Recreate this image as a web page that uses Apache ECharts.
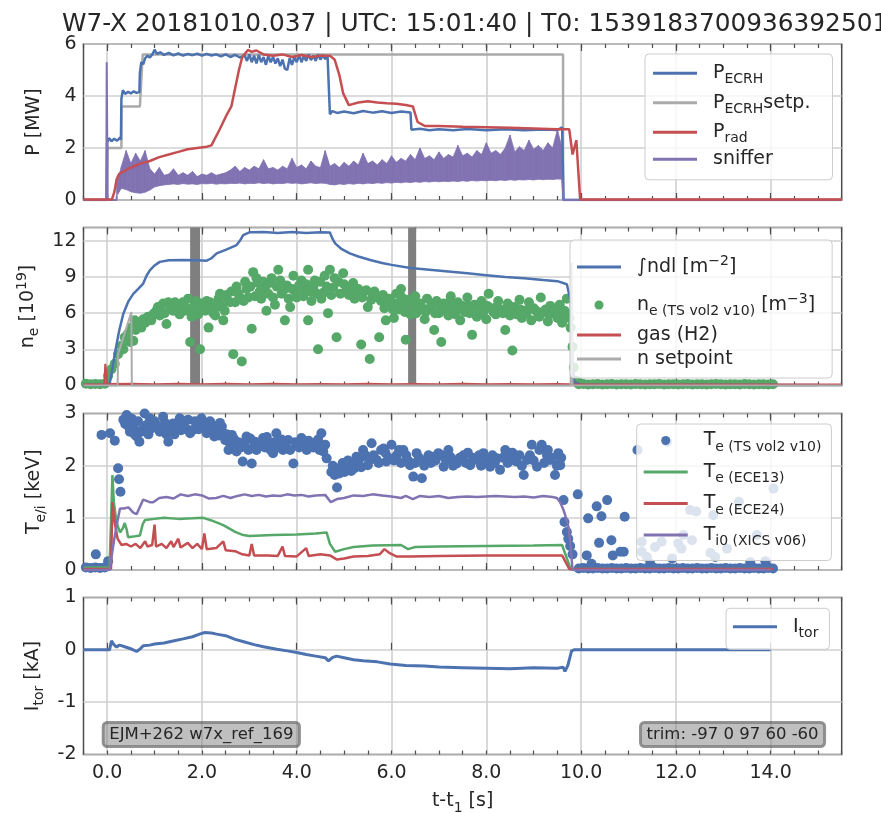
<!DOCTYPE html>
<html>
<head>
<meta charset="utf-8">
<script src="https://cdn.jsdelivr.net/npm/echarts@6/dist/echarts.min.js"></script>
<style>
  html, body { margin: 0; padding: 0; background: #fff; }
  #chart { width: 881px; height: 813px; }
</style>
</head>
<body>
<div id="chart"></div>
<script>
// W7-X 20181010.037 overview: 4 stacked panels sharing t-t1.
const FONT = 'DejaVu Sans';
const INK = '#262626';
const FRAME = '#4d4d4d';
const GRIDC = '#d0d0d0';
const BLUE = '#4C72B0', GREEN = '#55A868', RED = '#C44E52', PURPLE = '#8172B2', GRAY = '#ababab';

const titleText = 'W7-X 20181010.037 | UTC: 15:01:40 | T0: 1539183700936392501';
const X_MIN = -0.5, X_MAX = 15.5;
const xTicks = [0, 2, 4, 6, 8, 10, 12, 14];

// ---- panel 1: P [MW]
const pEcrh = [[-0.5,0],[-0.01,0],[0.0,2.2],[0.04,2.38],[0.09,2.26],[0.15,2.36],[0.21,2.28],[0.27,2.4],[0.29,2.32],[0.30,3.9],[0.33,4.22],[0.38,4.08],[0.44,4.16],[0.5,4.1],[0.56,4.18],[0.62,4.12],[0.68,4.15],[0.69,4.9],[0.72,5.3],[0.76,5.22],[0.8,5.45],[0.85,5.55],[0.9,5.48],[0.96,5.62],[1.0,5.78],[1.05,5.62],[1.12,5.68],[1.2,5.58],[1.3,5.66],[1.4,5.56],[1.5,5.64],[1.6,5.55],[1.7,5.62],[1.8,5.57],[1.9,5.63],[2.0,5.55],[2.1,5.62],[2.2,5.56],[2.3,5.6],[2.4,5.52],[2.5,5.6],[2.6,5.5],[2.7,5.58],[2.8,5.48],[2.9,5.56],[2.95,5.35],[3.0,5.6],[3.05,5.3],[3.1,5.55],[3.15,5.25],[3.2,5.58],[3.25,5.3],[3.3,5.5],[3.35,5.2],[3.4,5.55],[3.45,5.3],[3.5,5.5],[3.55,5.25],[3.6,5.45],[3.65,5.15],[3.7,5.4],[3.75,5.05],[3.8,5.0],[3.85,5.45],[3.9,5.2],[3.95,5.5],[4.0,5.3],[4.05,5.58],[4.1,5.3],[4.15,5.55],[4.2,5.35],[4.25,5.6],[4.3,5.38],[4.35,5.55],[4.4,5.35],[4.45,5.6],[4.5,5.4],[4.55,5.58],[4.6,5.42],[4.65,5.55],[4.69,5.5],[4.7,3.3],[4.75,3.42],[4.85,3.35],[5.0,3.4],[5.2,3.34],[5.4,3.42],[5.6,3.36],[5.8,3.41],[6.0,3.35],[6.2,3.4],[6.4,3.37],[6.42,2.7],[6.6,2.74],[6.8,2.68],[7.0,2.72],[7.3,2.68],[7.6,2.73],[8.0,2.68],[8.4,2.72],[8.8,2.68],[9.2,2.71],[9.5,2.69],[9.6,2.8],[9.63,0],[15.5,0]];
const pEcrhSet = [[-0.5,0],[-0.01,0],[0.0,2.0],[0.3,2.0],[0.3,3.6],[0.69,3.6],[0.75,5.6],[9.62,5.6],[9.62,0],[15.5,0]];
const pRad = [[-0.5,0.02],[0.1,0.02],[0.15,0.3],[0.2,0.8],[0.25,1.0],[0.35,1.1],[0.5,1.25],[0.7,1.4],[0.9,1.5],[1.1,1.65],[1.3,1.75],[1.5,1.85],[1.7,1.95],[1.9,2.0],[2.1,2.05],[2.2,2.1],[2.37,2.7],[2.52,3.27],[2.62,3.6],[2.7,4.3],[2.78,5.0],[2.85,5.5],[2.97,5.77],[3.05,5.7],[3.15,5.75],[3.3,5.6],[3.5,5.55],[3.7,5.6],[3.9,5.5],[4.1,5.58],[4.3,5.5],[4.5,5.55],[4.7,5.55],[4.8,5.4],[4.9,4.8],[4.98,4.1],[5.1,3.65],[5.3,3.75],[5.5,3.8],[5.7,3.75],[5.9,3.72],[6.1,3.7],[6.3,3.65],[6.45,3.6],[6.55,3.0],[6.7,2.85],[7.0,2.85],[7.5,2.82],[8.0,2.8],[8.5,2.78],[9.0,2.75],[9.5,2.72],[9.75,2.72],[9.82,1.75],[9.9,2.3],[9.98,0.02],[15.5,0.02]];
const snifSpike = [[-0.5,0],[-0.02,0],[-0.01,5.3],[0.0,5.3],[0.01,0],[0.2,0],[0.2,0.15]];
const snifT0 = 0.2, snifDt = 0.1;   // sampling of the sniffer envelopes
const snifLo = [0.15,0.45,0.40,0.32,0.28,0.26,0.30,0.38,0.50,0.55,
  0.58,0.60,0.62,0.60,0.63,0.61,0.62,0.60,0.63,0.62,
  0.64,0.61,0.63,0.62,0.64,0.63,0.65,0.62,0.64,0.63,
  0.66,0.63,0.65,0.62,0.64,0.63,0.66,0.64,0.65,0.62,
  0.64,0.66,0.63,0.65,0.64,0.60,0.58,0.62,0.60,0.63,
  0.61,0.64,0.62,0.65,0.63,0.66,0.64,0.67,0.65,0.68,
  0.66,0.69,0.67,0.70,0.68,0.71,0.69,0.72,0.70,0.72,
  0.71,0.73,0.71,0.74,0.72,0.75,0.73,0.75,0.74,0.76,
  0.74,0.77,0.75,0.78,0.76,0.78,0.77,0.79,0.77,0.80,
  0.78,0.80,0.79,0.81,0.80];
const snifHi = [0.6,1.3,1.9,1.4,1.8,1.5,1.9,1.2,1.0,1.25,
  0.95,1.0,1.2,0.95,1.05,0.95,1.1,0.9,1.0,0.95,
  1.05,0.95,1.0,1.05,1.15,1.3,1.1,1.25,1.15,1.3,
  1.2,1.55,1.2,1.25,1.15,1.3,1.2,1.6,1.25,1.35,
  1.2,1.5,1.3,1.25,1.9,1.3,1.4,1.25,1.45,1.3,
  1.5,1.35,1.8,1.4,1.5,1.35,1.55,1.4,1.7,1.45,
  1.6,1.5,1.75,1.55,2.0,1.6,1.7,1.55,1.85,1.6,
  1.75,1.65,2.1,1.7,1.8,1.65,1.9,1.75,2.2,1.8,
  1.9,1.75,2.0,2.5,1.85,2.05,1.9,2.3,1.95,2.1,
  1.9,2.2,2.0,2.7,2.0];
const snifTail = [[9.6,0.8],[9.63,0],[15.5,0]];

// ---- panel 2: n_e [1e19]
const ndl = [[-0.5,0.05],[0.0,0.05],[0.05,0.1],[0.1,1.2],[0.16,2.6],[0.25,4.5],[0.34,5.95],[0.45,7.0],[0.55,7.6],[0.65,8.0],[0.76,8.45],[0.83,9.1],[0.9,9.55],[1.0,9.95],[1.11,10.25],[1.3,10.38],[1.6,10.4],[1.9,10.38],[2.1,10.35],[2.2,10.55],[2.31,10.95],[2.5,11.25],[2.73,11.64],[2.8,12.0],[2.87,12.47],[3.0,12.7],[3.3,12.72],[3.6,12.65],[3.9,12.72],[4.2,12.65],[4.5,12.7],[4.7,12.68],[4.75,12.2],[4.81,11.78],[4.95,11.3],[5.12,10.95],[5.3,10.7],[5.55,10.4],[5.8,10.15],[6.0,10.0],[6.4,9.75],[6.8,9.6],[7.2,9.45],[7.6,9.3],[8.0,9.15],[8.4,9.0],[8.8,8.9],[9.2,8.75],[9.5,8.65],[9.7,8.4],[9.78,7.0],[9.82,2.0],[9.86,0.3],[10.0,0.05],[15.0,0.05]];
const neTs = [[-0.45,0.15],[-0.35,0.1],[-0.25,0.12],[-0.15,0.1],[-0.05,0.15],
  [0.02,0.8],[0.09,1.35],[0.16,1.8],[0.23,2.6],[0.3,3.3],[0.34,3.0],[0.37,4.0],[0.44,4.3],[0.48,3.6],[0.51,4.8],[0.55,3.7],[0.58,5.4],[0.65,5.1],[0.72,4.8],[0.76,5.5],[0.86,5.7],[0.93,5.4],[1.0,6.0],[1.04,6.2],[1.11,5.8],[1.18,6.8],[1.25,5.1],[1.29,6.9],[1.36,6.4],[1.43,6.9],[1.5,6.1],[1.57,6.7],[1.64,6.2],[1.71,7.2],[1.75,3.6],[1.78,5.7],[1.85,6.7],[1.96,3.0],[2.0,6.8],[2.07,6.2],[2.14,4.8],[2.17,6.9],[2.28,5.8],[2.35,7.2],[2.42,6.7],[2.45,5.4],[2.52,7.5],[2.59,6.9],[2.66,2.6],[2.73,8.2],[2.8,7.3],[2.84,2.0],[2.91,8.6],[2.98,7.3],[3.05,4.7],[3.08,9.4],[3.15,8.9],[3.22,7.8],[3.29,8.6],[3.36,6.2],[3.43,8.5],[3.54,6.7],[3.61,9.6],[3.68,7.6],[3.75,5.4],[3.79,8.3],[3.86,6.5],[3.93,9.1],[4.0,7.3],[4.1,8.7],[4.17,7.9],[4.24,9.6],[4.24,5.4],[4.31,7.0],[4.38,8.7],[4.45,3.0],[4.52,7.2],[4.59,9.1],[4.66,6.0],[4.7,9.6],[4.77,8.1],[4.84,4.0],[4.88,8.6],[4.98,9.3],[5.05,7.9],[5.19,8.5],[5.26,7.8],[5.36,3.4],[5.43,7.8],[5.5,6.5],[5.54,2.2],[5.64,7.8],[5.74,4.0],[5.78,7.0],[5.88,5.4],[5.92,6.7],
  [0.6,4.6],[0.68,5.0],[0.8,5.2],[0.9,5.6],[0.97,5.9],[1.07,6.5],[1.14,6.1],[1.21,6.0],[1.32,6.6],[1.39,6.2],[1.46,6.6],[1.53,5.9],[1.6,6.9],[1.68,6.4],[1.8,6.3],[1.88,7.0],[1.92,5.9],
  [2.03,6.4],[2.1,7.0],[2.2,6.6],[2.24,6.0],[2.32,6.5],[2.38,7.6],[2.48,6.2],[2.55,7.0],[2.62,7.8],[2.7,6.9],[2.77,7.6],[2.88,7.0],[2.94,8.0],
  [3.02,8.2],[3.12,7.4],[3.18,8.5],[3.25,7.2],[3.33,8.0],[3.4,7.6],[3.47,8.9],[3.5,7.3],[3.58,8.2],[3.65,8.7],[3.72,7.9],[3.83,7.2],[3.9,8.0],[3.97,7.8],[4.05,8.3],[4.14,7.4],[4.2,8.4],[4.28,7.8],[4.35,8.1],[4.42,7.6],[4.49,8.6],[4.56,7.7],[4.63,8.2],[4.73,7.5],[4.8,8.9],[4.92,7.6],[5.0,8.4],
  [5.1,7.5],[5.15,8.2],[5.22,7.2],[5.3,8.0],[5.38,7.3],[5.47,7.9],[5.57,7.1],[5.6,7.6],[5.7,7.3],[5.82,7.5],[5.85,6.4],[5.95,7.2],
  [6.0,6.9],[6.05,5.6],[6.1,7.6],[6.15,6.3],[6.2,8.0],[6.25,6.6],[6.3,3.8],[6.35,7.1],[6.4,5.9],[6.5,7.4],[6.55,6.2],[6.6,6.8],[6.7,5.5],[6.75,7.2],[6.8,6.4],[6.9,4.6],[6.95,7.0],[7.0,6.0],[7.05,3.6],[7.1,6.8],[7.2,5.8],[7.25,7.4],[7.3,6.3],[7.4,6.9],[7.45,5.4],[7.5,6.6],[7.6,7.3],[7.65,6.0],[7.7,4.2],[7.75,6.7],[7.8,5.7],[7.9,7.0],[7.95,6.2],[8.0,5.5],[8.05,7.6],[8.1,6.4],[8.2,5.9],[8.25,7.0],[8.3,6.3],[8.4,4.6],[8.45,6.8],[8.5,5.8],[8.55,2.9],[8.6,6.5],[8.7,7.1],[8.75,5.6],[8.8,6.2],[8.9,6.9],[8.95,5.4],[9.0,6.4],[9.1,5.9],[9.15,7.3],[9.2,6.1],[9.3,5.3],[9.35,6.6],[9.4,6.0],[9.5,5.6],[9.55,6.7],[9.6,5.2],[9.65,6.2],[9.7,7.2],[9.75,5.6],[9.78,4.8],[9.82,3.2],[9.85,1.5],[9.9,0.4],
  [6.03,6.3],[6.13,6.8],[6.22,7.3],[6.28,6.1],[6.45,6.7],[6.52,6.0],[6.63,6.5],[6.72,6.1],[6.85,6.7],[6.92,6.0],[7.02,6.6],[7.15,6.2],[7.22,6.9],[7.35,5.9],[7.42,6.4],[7.55,6.1],[7.62,6.6],[7.72,6.3],[7.85,6.5],[7.92,5.9],[8.02,6.6],[8.15,6.1],[8.22,6.5],[8.35,6.0],[8.42,6.3],[8.52,6.5],[8.65,5.9],[8.72,6.3],[8.85,6.0],[8.92,6.4],[9.05,6.2],[9.12,5.7],[9.25,6.3],[9.32,5.9],[9.45,6.3],[9.52,5.8],[9.62,6.0],[9.72,5.9],
  [9.95,0.1],[10.05,0.12],[10.15,0.08],[10.25,0.1],[10.35,0.13],[10.45,0.09],[10.55,0.1],[10.65,0.12],[10.75,0.08],[10.85,0.1],[10.95,0.11],[11.05,0.09],[11.15,0.12],[11.25,0.1],[11.35,0.08],[11.45,0.11],[11.55,0.1],[11.65,0.12],[11.75,0.09],[11.85,0.1],[11.95,0.11],[12.05,0.08],[12.15,0.1],[12.25,0.12],[12.35,0.09],[12.45,0.1],[12.55,0.11],[12.65,0.08],[12.75,0.1],[12.85,0.12],[12.95,0.1],[13.05,0.09],[13.15,0.11],[13.25,0.1],[13.35,0.08],[13.45,0.12],[13.55,0.1],[13.65,0.09],[13.75,0.11],[13.85,0.1],[13.95,0.08],[14.05,0.1]];
const gasH2 = [[-0.5,0.08],[-0.06,0.1],[-0.04,1.8],[-0.02,1.2],[0.0,0.12],[0.5,0.15],[1.0,0.1],[1.5,0.14],[2.0,0.1],[2.5,0.15],[3.0,0.11],[3.5,0.14],[4.0,0.1],[4.5,0.13],[5.0,0.1],[5.5,0.14],[6.0,0.1],[6.5,0.13],[7.0,0.11],[7.5,0.14],[8.0,0.1],[8.5,0.13],[9.0,0.1],[9.5,0.12],[10.0,0.08],[15.5,0.08]];
const nSet = [[-0.5,0],[0.22,0],[0.23,2.6],[0.51,6.1],[0.52,0],[9.78,0],[9.8,10.2],[9.82,0],[15.5,0]];
const nBands = [[1.75, 1.96], [6.35, 6.52]];

// ---- panel 3: T [keV]
const teTs = [[-0.45,0.05],[-0.35,0.04],[-0.24,0.3],[-0.25,0.05],[-0.15,0.04],[-0.12,2.59],[-0.05,0.05],[0.02,0.17],[0.06,2.62],[0.16,2.48],[0.23,1.95],[0.25,1.74],[0.28,1.5],[0.34,2.88],[0.41,2.97],[0.48,2.65],[0.55,2.72],[0.62,2.56],[0.68,2.46],[0.72,2.65],[0.79,3.0],[0.9,2.91],[1.0,2.85],[1.11,2.65],[1.18,2.94],[1.29,2.46],[1.39,2.81],[1.46,2.72],[1.53,2.91],[1.6,2.78],[1.71,2.88],[1.82,2.69],[1.89,2.81],[1.99,2.91],[2.07,2.72],[2.17,2.85],[2.26,2.56],[2.31,2.69],[2.42,2.75],[2.49,2.49],[2.56,2.3],[2.63,2.59],[2.7,2.43],[2.73,2.27],[2.86,2.08],[2.94,2.56],[3.05,2.04],[3.12,2.46],[3.19,2.37],[3.29,2.53],[3.4,2.4],[3.5,2.24],[3.57,2.62],[3.64,2.43],[3.71,2.3],[3.82,2.49],[3.93,2.04],[4.0,2.4],[4.1,2.53],[4.21,2.3],[4.31,2.43],[4.42,2.37],[4.52,2.62],[4.56,2.27],[4.63,2.14],[4.73,1.88],[4.8,1.82],[4.85,1.58],[4.94,1.98],[5.01,1.88],[5.12,2.04],[5.19,2.04],[5.22,1.95],[5.26,2.17],[5.33,2.14],[5.4,2.3],[5.5,2.01],[5.58,2.43],[5.69,2.11],[5.78,2.3],[5.83,2.33],[5.89,2.08],[6.0,2.4],[6.11,2.2],[6.25,2.3],[6.39,2.01],[6.46,1.79],[6.53,2.24],[6.64,1.76],[6.74,2.11],[6.88,2.17],[6.99,2.24],[7.1,1.98],[7.24,2.17],[7.38,2.04],[7.52,2.2],[7.66,2.01],[7.8,2.11],[7.94,2.24],[8.08,1.98],[8.22,2.14],[8.29,1.92],[8.4,2.3],[8.5,2.2],[8.64,2.08],[8.79,1.82],[8.86,2.11],[8.96,2.4],[9.07,1.98],[9.17,2.4],[9.28,2.2],[9.35,2.11],[9.45,1.82],[9.52,2.24],[9.56,2.01],[9.63,1.34],[9.65,0.92],[9.7,0.73],[9.73,0.6],[9.77,0.46],[9.82,0.3],[9.93,1.45],[10.12,0.28],[10.15,0.99],[10.22,0.12],[10.33,1.22],[10.38,0.52],[10.43,1.03],[10.55,1.34],[10.64,0.57],[10.67,0.28],[10.83,0.35],[10.92,1.02],[10.9,0.35],[11.19,2.3],[11.28,0.54],[11.28,0.35],[11.39,0.25],[11.46,0.12],[11.56,0.44],[11.7,0.54],[11.81,2.46],[11.92,0.22],[12.05,0.51],[12.12,0.41],[12.16,0.67],[12.3,1.15],[12.34,0.57],[12.43,1.12],[12.73,0.33],[12.79,1.05],[12.83,0.25],[13.08,0.41],[13.33,1.31],[13.57,0.15],[13.71,0.67],[13.89,0.17],[14.06,1.56],
  [0.38,2.8],[0.45,2.75],[0.52,2.9],[0.58,2.6],[0.65,2.85],[0.75,2.7],[0.83,2.78],[0.87,2.6],[0.95,2.72],[1.05,2.78],[1.15,2.7],[1.22,2.82],[1.25,2.6],[1.33,2.75],[1.42,2.6],[1.5,2.8],[1.56,2.68],[1.64,2.86],[1.68,2.7],[1.75,2.62],[1.85,2.85],[1.93,2.7],[2.02,2.8],[2.1,2.62],[2.13,2.78],[2.21,2.7],[2.28,2.75],[2.35,2.58],[2.38,2.82],[2.45,2.62],
  [2.52,2.6],[2.6,2.4],[2.67,2.52],[2.77,2.45],[2.82,2.35],[2.9,2.45],[2.98,2.3],[3.02,2.52],[3.08,2.35],[3.15,2.3],[3.24,2.45],[3.33,2.35],[3.37,2.55],[3.45,2.3],[3.53,2.45],[3.6,2.35],[3.68,2.5],[3.76,2.38],[3.86,2.3],[3.97,2.45],[4.05,2.35],[4.14,2.42],[4.25,2.48],[4.35,2.35],[4.45,2.5],[4.48,2.3],[4.6,2.4],
  [4.76,2.0],[4.83,1.9],[4.9,1.85],[4.97,2.05],[5.05,1.95],[5.08,2.1],[5.15,1.9],[5.29,2.05],[5.36,1.97],[5.45,2.2],[5.53,2.1],
  [5.62,2.2],[5.73,2.05],[5.87,2.25],[5.94,2.15],[6.05,2.1],[6.16,2.3],[6.2,2.05],[6.31,2.2],[6.35,2.1],[6.5,2.05],[6.58,2.15],[6.69,2.0],[6.78,2.2],[6.83,2.05],[6.93,2.1],[7.05,2.2],[7.15,2.1],[7.2,2.3],[7.3,2.0],[7.34,2.1],[7.44,2.15],[7.57,2.05],[7.61,2.25],[7.72,2.15],[7.85,2.2],[7.89,2.0],[8.0,2.1],[8.13,2.2],[8.18,2.05],[8.35,2.15],[8.45,2.05],[8.55,2.25],[8.6,2.1],[8.7,2.2],[8.75,2.0],[8.92,2.2],[9.0,2.1],[9.12,2.3],[9.22,2.05],[9.3,2.3],[9.4,2.15],[9.49,2.0],[9.58,2.15],
  [9.95,0.03],[10.05,0.04],[10.15,0.03],[10.25,0.03],[10.35,0.04],[10.45,0.03],[10.55,0.03],[10.65,0.04],[10.75,0.03],[10.85,0.03],[10.95,0.04],[11.05,0.03],[11.15,0.03],[11.25,0.04],[11.35,0.03],[11.45,0.03],[11.55,0.04],[11.65,0.03],[11.75,0.03],[11.85,0.04],[11.95,0.03],[12.05,0.03],[12.15,0.04],[12.25,0.03],[12.35,0.03],[12.45,0.04],[12.55,0.03],[12.65,0.03],[12.75,0.04],[12.85,0.03],[12.95,0.03],[13.05,0.04],[13.15,0.03],[13.25,0.03],[13.35,0.04],[13.45,0.03],[13.55,0.03],[13.65,0.04],[13.75,0.03],[13.85,0.03],[13.95,0.04],[14.05,0.03]];
const teEce13 = [[-0.5,0.05],[0.05,0.05],[0.08,0.9],[0.11,1.82],[0.14,1.3],[0.2,0.9],[0.27,0.72],[0.33,0.8],[0.37,0.9],[0.41,0.78],[0.44,0.63],[0.55,0.64],[0.69,0.66],[0.75,0.88],[0.8,0.96],[1.0,0.98],[1.2,1.0],[1.5,0.98],[1.8,0.99],[2.03,1.0],[2.2,0.95],[2.45,0.86],[2.7,0.73],[2.87,0.67],[3.0,0.65],[3.5,0.67],[4.0,0.68],[4.4,0.7],[4.63,0.72],[4.7,0.5],[4.81,0.35],[5.0,0.4],[5.2,0.44],[5.6,0.47],[6.2,0.48],[6.35,0.4],[6.5,0.44],[7.0,0.45],[8.0,0.46],[9.0,0.47],[9.6,0.48],[9.78,0.02],[14.05,0.02]];
const teEce24 = [[-0.5,0.02],[0.08,0.02],[0.11,1.3],[0.16,0.9],[0.22,0.6],[0.3,0.48],[0.4,0.5],[0.5,0.45],[0.6,0.5],[0.7,0.42],[0.8,0.55],[0.85,0.45],[0.95,0.48],[1.0,0.87],[1.03,0.45],[1.15,0.5],[1.25,0.42],[1.35,0.55],[1.4,0.44],[1.5,0.6],[1.55,0.43],[1.7,0.52],[1.8,0.42],[1.9,0.5],[2.0,0.4],[2.05,0.7],[2.1,0.4],[2.3,0.42],[2.45,0.55],[2.5,0.38],[2.7,0.36],[2.85,0.3],[3.0,0.28],[3.05,0.5],[3.1,0.28],[3.4,0.28],[3.6,0.27],[3.7,0.45],[3.75,0.27],[4.0,0.26],[4.2,0.42],[4.25,0.27],[4.5,0.3],[4.7,0.28],[4.85,0.2],[5.0,0.22],[5.2,0.26],[5.5,0.27],[5.75,0.3],[5.85,0.4],[5.95,0.33],[6.1,0.26],[6.4,0.26],[7.0,0.27],[8.0,0.28],[9.0,0.28],[9.6,0.28],[9.75,0.02],[14.05,0.02]];
const ti0Xics = [[-0.5,0.0],[0.05,0.0],[0.15,0.6],[0.22,0.95],[0.27,1.18],[0.35,1.18],[0.45,1.2],[0.55,1.1],[0.62,1.07],[0.76,1.35],[0.9,1.3],[0.97,1.3],[1.1,1.38],[1.25,1.4],[1.4,1.37],[1.55,1.45],[1.7,1.42],[1.85,1.45],[2.0,1.43],[2.15,1.37],[2.3,1.38],[2.45,1.42],[2.6,1.38],[2.75,1.42],[2.9,1.45],[3.05,1.42],[3.2,1.44],[3.35,1.41],[3.5,1.43],[3.65,1.42],[3.8,1.45],[3.95,1.43],[4.1,1.44],[4.25,1.41],[4.4,1.43],[4.6,1.44],[4.72,1.3],[4.85,1.36],[5.0,1.38],[5.2,1.43],[5.4,1.42],[5.6,1.45],[5.8,1.43],[6.0,1.41],[6.2,1.38],[6.3,1.42],[6.45,1.36],[6.6,1.42],[6.8,1.4],[7.0,1.42],[7.2,1.38],[7.4,1.4],[7.6,1.41],[7.8,1.4],[8.0,1.41],[8.2,1.42],[8.4,1.41],[8.6,1.4],[8.8,1.41],[9.0,1.39],[9.2,1.42],[9.4,1.4],[9.49,1.38],[9.56,1.3],[9.63,1.15],[9.7,0.95],[9.74,0.8],[9.78,0.45],[9.82,0.0],[14.0,0.0]];

// ---- panel 4: I_tor [kA]
const iTor = [[-0.5,0],[0.05,0],[0.09,0.17],[0.14,0.1],[0.2,0.05],[0.25,0.09],[0.3,0.08],[0.4,0.05],[0.5,0.02],[0.62,-0.03],[0.7,0.02],[0.76,0.08],[0.9,0.09],[1.0,0.11],[1.2,0.13],[1.39,0.17],[1.6,0.21],[1.8,0.25],[1.95,0.3],[2.05,0.33],[2.2,0.32],[2.31,0.3],[2.5,0.27],[2.7,0.2],[2.9,0.15],[3.1,0.1],[3.3,0.06],[3.58,0.01],[3.8,-0.02],[4.0,-0.05],[4.2,-0.09],[4.4,-0.12],[4.6,-0.15],[4.67,-0.21],[4.75,-0.15],[4.84,-0.12],[5.0,-0.15],[5.2,-0.19],[5.4,-0.21],[5.7,-0.23],[5.97,-0.27],[6.3,-0.3],[6.7,-0.31],[7.0,-0.33],[7.5,-0.34],[8.0,-0.35],[8.5,-0.36],[9.0,-0.34],[9.5,-0.35],[9.62,-0.33],[9.66,-0.41],[9.72,-0.3],[9.8,-0.02],[9.85,0.0],[14.0,0.0]];

const noteLeft = 'EJM+262 w7x_ref_169';
const noteRight = 'trim: -97 0 97 60 -60';

// sniffer band rows: [t, lower, upper]
const snifBand = snifLo.map((lo, i) => [+(snifT0 + i * snifDt).toFixed(2), lo, snifHi[i]]);

// ---- layout
const panels = [
  { top: 44, height: 156, min: 0, max: 6, step: 2, name: 'P [MW]' },
  { top: 227.5, height: 158, min: 0, max: 13.1, step: 3, name: 'n{sub|e} [10{sup|19}]' },
  { top: 413.5, height: 156.5, min: 0, max: 3, step: 1, name: 'T{sub|e/i} [keV]' },
  { top: 597.5, height: 157, min: -2, max: 1, step: 1, name: 'I{sub|tor} [kA]' },
];

const rich = {
  sub: { fontFamily: FONT, fontSize: 14, color: INK, padding: [13, 0, 0, 0], lineHeight: 14 },
  sup: { fontFamily: FONT, fontSize: 14, color: INK, padding: [0, 0, 12, 0], lineHeight: 14 },
  supTall: { fontFamily: FONT, fontSize: 14, color: INK, padding: [0, 0, 12, 0], lineHeight: 38 },
  subMid: { fontFamily: FONT, fontSize: 14, color: INK, padding: [13, 0, 0, 0], lineHeight: 34 },
};

const legendLabels = {
  'P_ECRH': 'P{sub|ECRH}',
  'P_ECRH setp.': 'P{sub|ECRH}setp.',
  'P_rad': 'P{sub|rad}',
  'sniffer': 'sniffer',
  'ndl': '∫ndl [m{supTall|−2}]',
  'ne_TS': 'n{subMid|e (TS vol2 v10)} [m{sup|−3}]',
  'gas (H2)': 'gas (H2)',
  'n setpoint': 'n setpoint',
  'Te_TS': 'T{sub|e (TS vol2 v10)}',
  'Te_ECE13': 'T{sub|e (ECE13)}',
  'Te_ECE24': 'T{sub|e (ECE24)}',
  'Ti0_XICS': 'T{sub|i0 (XICS v06)}',
  'Itor': 'I{sub|tor}',
};
const scatterNames = ['ne_TS', 'Te_TS'];
const LINE_ICON = 'path://M0,0H44V3H0Z';

const grids = panels.map(p => ({
  left: 83.5, right: 39.3, top: p.top, height: p.height,
  show: true, borderColor: FRAME, borderWidth: 1.5, backgroundColor: 'transparent',
  containLabel: false, outerBoundsMode: 'none',
}));

const tickLine = { color: FRAME, width: 1.2 };
const xAxes = [];
panels.forEach((p, i) => {
  const base = { type: 'value', gridIndex: i, min: X_MIN, max: X_MAX, axisLine: { show: false } };
  const last = i === panels.length - 1;
  xAxes.push({
    ...base, position: 'bottom',
    axisTick: { show: true, inside: true, length: 7, lineStyle: tickLine, customValues: xTicks },
    axisLabel: { show: last, customValues: xTicks, formatter: v => v.toFixed(1),
      fontFamily: FONT, fontSize: 19, color: INK, margin: 9 },
    splitLine: { show: true, lineStyle: { color: GRIDC, width: 1.6 } },
    name: last ? 't-t{sub|1} [s]' : '', nameLocation: 'middle', nameGap: 36,
    nameTextStyle: { fontFamily: FONT, fontSize: 19, color: INK, lineHeight: 22, rich },
  });
  xAxes.push({ ...base, position: 'bottom', interval: 0.5,
    axisTick: { show: true, inside: true, length: 4, lineStyle: tickLine },
    axisLabel: { show: false }, splitLine: { show: false } });
  xAxes.push({ ...base, position: 'top',
    axisTick: { show: true, inside: true, length: 7, lineStyle: tickLine, customValues: xTicks },
    axisLabel: { show: false }, splitLine: { show: false } });
  xAxes.push({ ...base, position: 'top', interval: 0.5,
    axisTick: { show: true, inside: true, length: 4, lineStyle: tickLine },
    axisLabel: { show: false }, splitLine: { show: false } });
});

const yAxes = panels.map((p, i) => ({
  type: 'value', gridIndex: i, min: p.min, max: p.max, interval: p.step,
  axisLine: { show: false }, axisTick: { show: false },
  axisLabel: { fontFamily: FONT, fontSize: 19, color: INK, margin: 7, showMaxLabel: p.max % p.step === 0 },
  splitLine: { show: true, lineStyle: { color: GRIDC, width: 1.6 } },
  name: p.name, nameLocation: 'middle', nameRotate: 90, nameGap: 38,
  nameTextStyle: { fontFamily: FONT, fontSize: 19, color: INK, lineHeight: 22, rich },
}));

function line(name, panel, data, color, width, extra) {
  return Object.assign({
    type: 'line', name, xAxisIndex: panel * 4, yAxisIndex: panel, data,
    symbol: 'none', color, lineStyle: { color, width }, silent: true,
  }, extra || {});
}
function dots(name, panel, data, color) {
  return {
    type: 'scatter', name, xAxisIndex: panel * 4, yAxisIndex: panel, data,
    symbol: 'circle', symbolSize: 10, color, itemStyle: { color, opacity: 1 }, silent: true,
  };
}
// filled band between lower and upper envelope, one quad per sample step
function band(name, panel, rows, color) {
  return {
    type: 'custom', name, xAxisIndex: panel * 4, yAxisIndex: panel, data: rows,
    color, itemStyle: { color }, silent: true, clip: true,
    encode: { x: 0, y: [1, 2] },
    renderItem(params, api) {
      const i = params.dataIndex;
      if (i >= rows.length - 1) return null;
      const a = rows[i], b = rows[i + 1];
      return {
        type: 'polygon',
        shape: { points: [api.coord([a[0], a[1]]), api.coord([b[0], b[1]]), api.coord([b[0], b[2]]), api.coord([a[0], a[2]])] },
        style: { fill: color, stroke: color, lineWidth: 0.8 },
      };
    },
  };
}

const series = [
  line('P_ECRH setp.', 0, pEcrhSet, GRAY, 2.5),
  line('P_ECRH', 0, pEcrh, BLUE, 2.5),
  line('sniffer', 0, snifSpike, PURPLE, 2),
  line('sniffer', 0, snifTail, PURPLE, 2),
  band('sniffer', 0, snifBand, PURPLE),
  line('P_rad', 0, pRad, RED, 2.5),

  line('bands', 1, [[X_MIN, -1]], 'transparent', 0, {
    z: 1,
    markArea: { silent: true, itemStyle: { color: '#7f7f7f', opacity: 1 },
      data: nBands.map(b => [{ xAxis: b[0] }, { xAxis: b[1] }]) },
  }),
  line('ndl', 1, ndl, BLUE, 2.5),
  dots('ne_TS', 1, neTs, GREEN),
  line('gas (H2)', 1, gasH2, RED, 2),
  line('n setpoint', 1, nSet, GRAY, 2),

  dots('Te_TS', 2, teTs, BLUE),
  line('Te_ECE13', 2, teEce13, GREEN, 2.5),
  line('Te_ECE24', 2, teEce24, RED, 2.5),
  line('Ti0_XICS', 2, ti0Xics, PURPLE, 2.5),

  line('Itor', 3, iTor, BLUE, 3),
];

function legendBox(names, left, top, padding, itemGap) {
  return {
    data: names.map(n => scatterNames.includes(n) ? { name: n, icon: 'circle' } : { name: n, icon: LINE_ICON }),
    orient: 'vertical', align: 'left', left, top, padding, itemGap,
    itemWidth: 44, itemHeight: 9, symbolKeepAspect: true, selectedMode: false,
    backgroundColor: 'rgba(255,255,255,0.8)', borderColor: '#cccccc', borderWidth: 1, borderRadius: 4,
    formatter: n => legendLabels[n],
    textStyle: { fontFamily: FONT, fontSize: 19, color: INK, lineHeight: 22, padding: [0, 0, 0, 11], rich },
  };
}

const legends = [
  legendBox(['P_ECRH', 'P_ECRH setp.', 'P_rad', 'sniffer'], 645, 54, [5.7, 22, 9.6, 8], 2.5),
  legendBox(['ndl', 'ne_TS', 'gas (H2)', 'n setpoint'], 570, 240, [8, 17, 8, 7], 2),
  legendBox(['Te_TS', 'Te_ECE13', 'Te_ECE24', 'Ti0_XICS'], 636.7, 424, [3, 10, 12, 7], 4.5),
  legendBox(['Itor'], 726, 608.3, [5, 11, 9, 7], 5),
];

function noteBox(text, left) {
  return {
    type: 'text', left, top: 721, z: 100,
    style: {
      text, font: '16.5px "DejaVu Sans"', fill: INK,
      backgroundColor: 'rgba(128,128,128,0.5)', borderColor: 'rgba(60,60,60,0.55)',
      borderWidth: 1.5, borderRadius: 4, padding: [4, 6, 3, 6],
    },
  };
}

const chart = echarts.init(document.getElementById('chart'), null, { renderer: 'canvas' });
chart.setOption({
  animation: false,
  backgroundColor: '#ffffff',
  title: { text: titleText, left: 57, top: 7,
    textStyle: { fontFamily: FONT, fontSize: 24.8, fontWeight: 'normal', color: INK } },
  grid: grids,
  xAxis: xAxes,
  yAxis: yAxes,
  legend: legends,
  series,
  graphic: [noteBox(noteLeft, 101.7), noteBox(noteRight, 639)],
});
</script>
</body>
</html>
